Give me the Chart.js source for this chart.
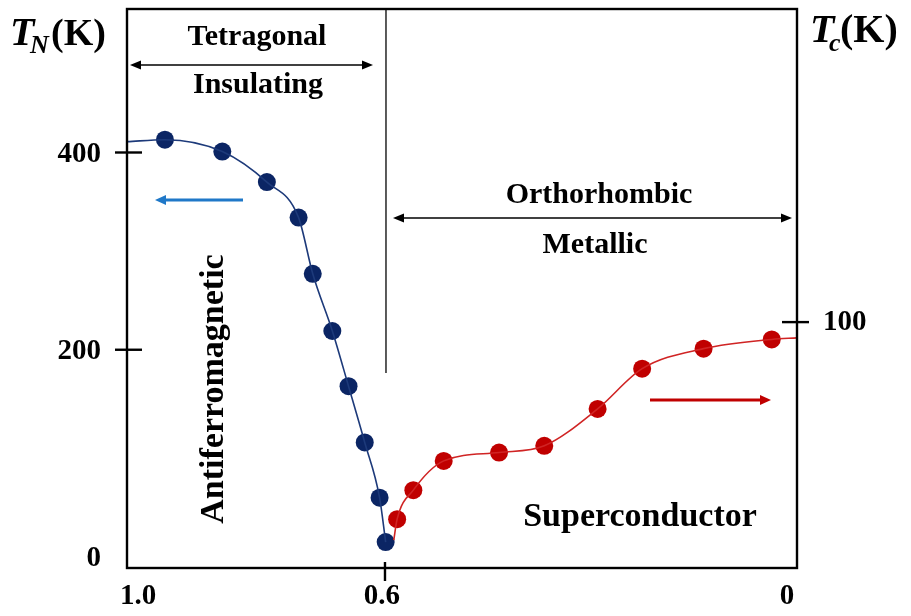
<!DOCTYPE html>
<html><head><meta charset="utf-8">
<script src="https://cdn.jsdelivr.net/npm/chart.js@4/dist/chart.umd.min.js"></script>
<style>html,body{margin:0;padding:0;background:#fff;}</style>
</head><body>
<canvas id="c" width="911" height="616"></canvas>
<script>
// ---- data ----
const xTicks = [1.0, 0.6, 0];
const xTickLabels = ['1.0', '0.6', '0'];
const tnTicks = [0, 200, 400];
const tnTickLabels = ['0', '200', '400'];
const tcTicks = [100];
const tcTickLabels = ['100'];

// antiferromagnetic (T_N) measured points
const dopingAF = [0.926, 0.841, 0.775, 0.728, 0.707, 0.678, 0.654, 0.630, 0.608, 0.599];
const tN       = [413,   401,   370,   334,   277,   219,   163,   106,   50,    5];
// fitted curve continues to the left frame
const afCurveStartX = 0.982, afCurveStartY = 411;

// superconducting (T_c) measured points
const dopingSC = [0.582, 0.558, 0.513, 0.431, 0.364, 0.285, 0.219, 0.128, 0.027];
const tC       = [12.4,  25.3,  38.3,  42.0,  45.0,  61.4,  79.3,  88.2,  92.3];
// fitted curve end points
const scCurveStartX = 0.587, scCurveStartY = 3.1;
const scCurveEndX = -0.0104, scCurveEndY = 93.0;

const NAVY = '#0b2564';
const RED = '#c00000';
const SERIF = '"Liberation Serif", "Times New Roman", serif';

const pts = (xs, ys) => xs.map((v, i) => ({x: v, y: ys[i]}));

const afCurve = pts([afCurveStartX, ...dopingAF], [afCurveStartY, ...tN]);
const scCurve = pts([scCurveStartX, ...dopingSC, scCurveEndX], [scCurveStartY, ...tC, scCurveEndY]);

function arrow(ctx, x1, y1, x2, y2, color, lw, hl, hw, both) {
  ctx.save();
  ctx.strokeStyle = color; ctx.fillStyle = color; ctx.lineWidth = lw;
  const dir = Math.sign(x2 - x1);
  ctx.beginPath();
  ctx.moveTo(x1 + (both ? dir * hl * 0.8 : 0), y1);
  ctx.lineTo(x2 - dir * hl * 0.8, y2);
  ctx.stroke();
  const head = (hx, d) => {
    ctx.beginPath();
    ctx.moveTo(hx, y2);
    ctx.lineTo(hx - d * hl, y2 - hw);
    ctx.lineTo(hx - d * hl, y2 + hw);
    ctx.closePath(); ctx.fill();
  };
  head(x2, dir);
  if (both) head(x1, -dir);
  ctx.restore();
}

const decor = {
  id: 'decor',
  afterDatasetsDraw(chart) {
    const {ctx, chartArea: a, scales} = chart;
    const x = scales.x, yN = scales.yN, yC = scales.yC;
    ctx.save();
    // phase boundary line
    const xb = x.getPixelForValue(0.6);
    ctx.strokeStyle = '#333'; ctx.lineWidth = 1.6;
    ctx.beginPath(); ctx.moveTo(xb + 1, a.top); ctx.lineTo(xb + 1, 373); ctx.stroke();

    // frame
    ctx.strokeStyle = '#000'; ctx.lineWidth = 2.4;
    ctx.strokeRect(a.left, a.top, a.right - a.left, a.bottom - a.top);

    // ticks + labels
    ctx.fillStyle = '#000';
    ctx.lineWidth = 2.4;
    ctx.font = 'bold 29px ' + SERIF;
    tnTicks.forEach((v, i) => {
      const py = yN.getPixelForValue(v);
      if (v !== 0) { ctx.beginPath(); ctx.moveTo(a.left - 12, py); ctx.lineTo(a.left + 15, py); ctx.stroke(); }
      ctx.textAlign = 'right'; ctx.textBaseline = 'middle';
      const ly = (a.bottom - py < 25) ? a.bottom - 9 : py + 2;
      ctx.fillText(tnTickLabels[i], a.left - 26, ly);
    });
    tcTicks.forEach((v, i) => {
      const py = yC.getPixelForValue(v);
      ctx.beginPath(); ctx.moveTo(a.right - 15, py); ctx.lineTo(a.right + 12, py); ctx.stroke();
      ctx.textAlign = 'left'; ctx.textBaseline = 'middle';
      ctx.fillText(tcTickLabels[i], a.right + 26, py);
    });
    xTicks.forEach((v, i) => {
      const px = x.getPixelForValue(v);
      if (v !== 0 && px >= a.left && px <= a.right) {
        ctx.beginPath(); ctx.moveTo(px, a.bottom - 6); ctx.lineTo(px, a.bottom + 13); ctx.stroke();
      }
      ctx.textAlign = 'center'; ctx.textBaseline = 'middle';
      ctx.fillText(xTickLabels[i], Math.max(px - 3, a.left + 11), a.bottom + 29);
    });

    // axis titles
    ctx.textAlign = 'left'; ctx.textBaseline = 'alphabetic';
    ctx.font = 'italic bold 40px ' + SERIF; ctx.fillText('T', 10, 45);
    ctx.font = 'italic bold 26px ' + SERIF; ctx.fillText('N', 30, 53);
    ctx.font = 'bold 38px ' + SERIF; ctx.fillText('(K)', 51, 45);
    ctx.font = 'italic bold 40px ' + SERIF; ctx.fillText('T', 810, 42);
    ctx.font = 'italic bold 26px ' + SERIF; ctx.fillText('c', 829, 51);
    ctx.font = 'bold 40px ' + SERIF; ctx.fillText('(K)', 840, 42);

    // region labels
    ctx.textAlign = 'center';
    ctx.font = 'bold 30px ' + SERIF;
    ctx.fillText('Tetragonal', 257, 45);
    ctx.fillText('Insulating', 258, 93);
    ctx.fillText('Orthorhombic', 599, 203);
    ctx.fillText('Metallic', 595, 253);
    ctx.font = 'bold 34px ' + SERIF;
    ctx.fillText('Superconductor', 640, 526);
    ctx.save();
    ctx.translate(223, 389); ctx.rotate(-Math.PI / 2);
    ctx.fillText('Antiferromagnetic', 0, 0);
    ctx.restore();

    // arrows
    arrow(ctx, 130, 65, 373, 65, '#000', 1.6, 11, 4.5, true);
    arrow(ctx, 393, 218, 792, 218, '#000', 1.6, 11, 4.5, true);
    arrow(ctx, 243, 200, 155, 200, '#1f78c8', 2.8, 11, 5, false);
    arrow(ctx, 650, 400, 771, 400, '#c00000', 2.8, 11, 5, false);
    ctx.restore();
  }
};

new Chart(document.getElementById('c'), {
  type: 'scatter',
  data: {
    datasets: [
      { label: 'Tc fit', data: scCurve, yAxisID: 'yC', showLine: true, borderColor: '#d02424',
        borderWidth: 1.6, pointRadius: 0, cubicInterpolationMode: 'monotone', fill: false },
      { label: 'Tc', data: pts(dopingSC, tC), yAxisID: 'yC', showLine: false,
        pointRadius: 9, backgroundColor: RED, borderColor: RED, borderWidth: 0 },
      { label: 'TN fit', data: afCurve, yAxisID: 'yN', showLine: true, borderColor: '#1d3a7a',
        borderWidth: 1.6, pointRadius: 0, cubicInterpolationMode: 'monotone', fill: false },
      { label: 'TN', data: pts(dopingAF, tN), yAxisID: 'yN', showLine: false,
        pointRadius: 9, backgroundColor: NAVY, borderColor: NAVY, borderWidth: 0 }
    ]
  },
  options: {
    responsive: false,
    devicePixelRatio: 1,
    animation: false,
    events: [],
    layout: { padding: { left: 127, top: 8, right: 114, bottom: 48 } },
    plugins: { legend: { display: false }, tooltip: { enabled: false } },
    scales: {
      x: { type: 'linear', reverse: true, min: -0.0104, max: 0.9822, display: false },
      yN: { type: 'linear', position: 'left', min: -21.3, max: 545.5, display: false },
      yC: { type: 'linear', position: 'right', min: -9.32, max: 239.2, display: false }
    }
  },
  plugins: [decor]
});
</script>
</body></html>
